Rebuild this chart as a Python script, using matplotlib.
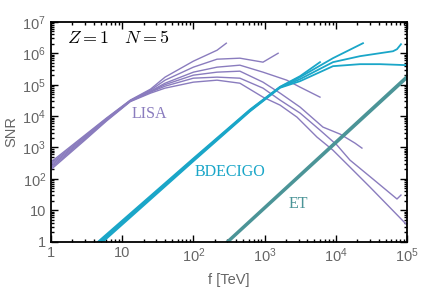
import matplotlib
matplotlib.use("Agg")
import matplotlib.pyplot as plt
from matplotlib.ticker import FixedLocator, FixedFormatter, LogLocator, NullFormatter

plt.rcParams['font.family'] = ['Liberation Sans', 'DejaVu Sans']
plt.rcParams['mathtext.fontset'] = 'custom'
plt.rcParams['mathtext.rm'] = 'Liberation Sans'
plt.rcParams['mathtext.it'] = 'Liberation Sans:italic'

# LISA curves (f in TeV, SNR)
lisa_f = [
    [1, 3, 6, 13, 25, 40, 100, 215, 290],
    [1, 3, 6, 13, 25, 40, 100, 215, 450, 950, 1550],
    [1, 3, 6, 13, 25, 40, 100, 215, 450, 950, 2050, 3150, 6000],
    [1, 3, 6, 13, 25, 40, 100, 215, 450, 950, 1650, 3150, 6600, 11500, 18600, 23300],
    [1, 3, 6, 13, 25, 40, 100, 215, 450, 950, 1650, 3150, 6000, 10400, 15800, 33300, 72400, 82400],
    [1, 3, 6, 13, 25, 40, 100, 215, 450, 950, 1650, 2850, 5450, 9100, 15800, 30200, 1e5],
]
lisa_snr = [
    [344, 2480, 8630, 3.24e4, 7.24e4, 1.75e5, 5.65e5, 1.26e6, 2.11e6],
    [307, 2310, 8270, 3.17e4, 6.73e4, 1.40e5, 3.64e5, 6.53e5, 7.03e5, 5.25e5, 1.01e6],
    [275, 2150, 7920, 3.10e4, 6.25e4, 1.12e5, 2.52e5, 3.64e5, 4.21e5, 2.52e5, 1.40e5, 8.39e4, 4.03e4],
    [247, 1990, 7590, 3.03e4, 6.03e4, 1.01e5, 2.02e5, 2.52e5, 2.71e5, 1.21e5, 5.40e4, 1.94e4, 4.47e3, 2.67e3, 1.38e3, 957],
    [221, 1850, 7270, 2.97e4, 5.81e4, 9.0e4, 1.62e5, 1.75e5, 1.62e5, 7.80e4, 3.24e4, 1.25e4, 3.58e3, 1.19e3, 397, 98.6, 22.8, 30.5],
    [198, 1720, 6930, 2.90e4, 5.40e4, 7.8e4, 1.21e5, 1.40e5, 1.12e5, 4.03e4, 2.24e4, 9.29e3, 2.14e3, 826, 238, 54.8, 3.38],
]

# BDECIGO curves
bdecigo_f = [
    [4.6, 99, 624, 1646, 3150, 6000],
    [4.85, 99, 624, 1646, 3150, 9130, 24100],
    [5.1, 99, 624, 1646, 3150, 9130, 21900, 63600, 72400, 82400],
    [5.4, 99, 624, 1646, 3150, 9130, 21900, 41800, 1e5],
]
bdecigo_snr = [
    [1, 440, 1.62e4, 8.6e4, 1.88e5, 5.25e5],
    [1, 412, 1.55e4, 8.4e4, 1.75e5, 7.03e5, 2.11e6],
    [1, 385, 1.48e4, 8.2e4, 1.51e5, 5.25e5, 8.15e5, 1.17e6, 1.36e6, 1.96e6],
    [1, 358, 1.42e4, 8.0e4, 1.30e5, 3.91e5, 4.53e5, 4.53e5, 4.21e5],
]

# ET curves
et_f = [[296, 1e5], [314, 1e5]]
et_snr = [[1, 1.9e5], [1, 1.62e5]]

xticks = [1, 10, 1e2, 1e3, 1e4, 1e5]
xlabels = ['1', '10', '$10^2$', '$10^3$', '$10^4$', '$10^5$']
yticks = [1, 10, 1e2, 1e3, 1e4, 1e5, 1e6, 1e7]
ylabels = ['1', '10', '$10^2$', '$10^3$', '$10^4$', '$10^5$', '$10^6$', '$10^7$']

c_lisa = '#8a7cbe'
c_bdecigo = '#1aa6c8'
c_et = '#4b9497'
gray = '#666666'

fig = plt.figure(figsize=(4.21, 2.90), dpi=100)
ax = fig.add_axes([0.1211, 0.1669, 0.8456, 0.7572])

for f, s in zip(lisa_f, lisa_snr):
    ax.plot(f, s, color=c_lisa, lw=1.0)
for f, s in zip(bdecigo_f, bdecigo_snr):
    ax.plot(f, s, color=c_bdecigo, lw=1.3)
for f, s in zip(et_f, et_snr):
    ax.plot(f, s, color=c_et, lw=1.6)

ax.set_xscale('log')
ax.set_yscale('log')
ax.set_xlim(1, 1e5)
ax.set_ylim(1, 1e7)

ax.xaxis.set_major_locator(FixedLocator(xticks))
ax.xaxis.set_major_formatter(FixedFormatter(xlabels))
ax.yaxis.set_major_locator(FixedLocator(yticks))
ax.yaxis.set_major_formatter(FixedFormatter(ylabels))
ax.xaxis.set_minor_locator(LogLocator(base=10, subs=range(2, 10), numticks=20))
ax.yaxis.set_minor_locator(LogLocator(base=10, subs=range(2, 10), numticks=20))
ax.xaxis.set_minor_formatter(NullFormatter())
ax.yaxis.set_minor_formatter(NullFormatter())

ax.tick_params(which='both', direction='in', top=True, right=True,
               labelcolor=gray, labelsize=10.5, width=1.0)
ax.tick_params(which='major', length=5)
ax.tick_params(which='minor', length=2.5)
for sp in ax.spines.values():
    sp.set_linewidth(1.3)

ax.set_xlabel('f [TeV]', color=gray, fontsize=10.5, labelpad=6)
ax.set_ylabel('SNR', color=gray, fontsize=10.5, labelpad=3)

ax.text(0.045, 0.927, r'$Z = 1 \quad N = 5$', transform=ax.transAxes,
        fontsize=13, math_fontfamily='cm', va='center', ha='left')
ax.text(24, 1.16e4, 'LISA', color=c_lisa, fontsize=11.5,
        family='Liberation Serif', ha='center', va='center')
ax.text(327, 164, 'BDECIGO', color=c_bdecigo, fontsize=11.5,
        family='Liberation Serif', ha='center', va='center')
ax.text(2940, 15.7, 'ET', color=c_et, fontsize=11.5,
        family='Liberation Serif', ha='center', va='center')

fig.savefig('out.png', dpi=100)
